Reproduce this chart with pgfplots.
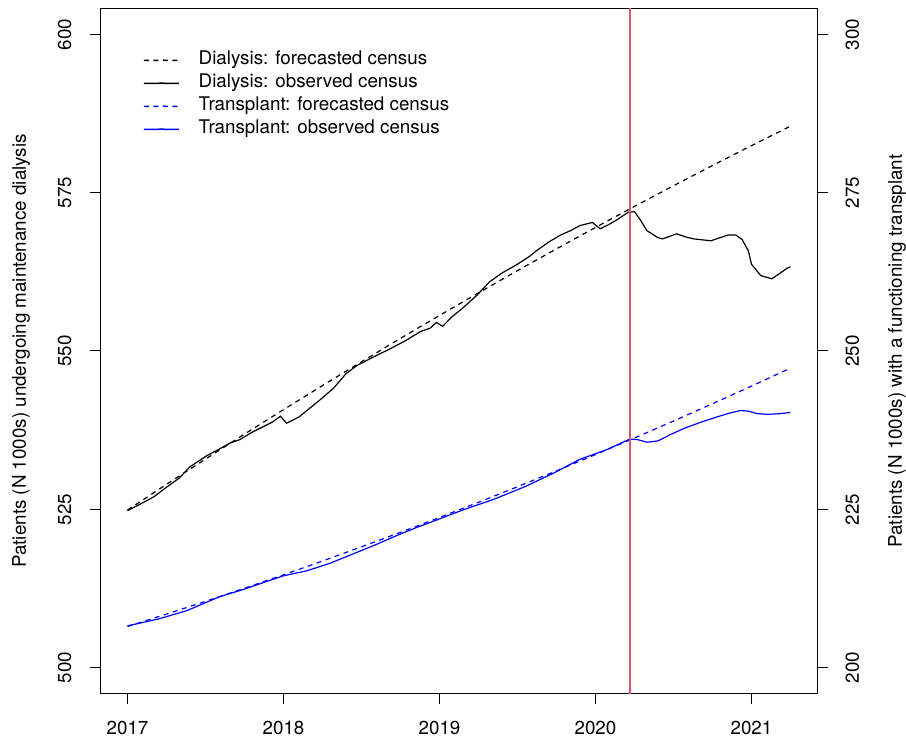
\documentclass[border=0pt]{standalone}
\usepackage{fontspec}
\setmainfont{TeX Gyre Heros}
\usepackage{pgfplots}
\pgfplotsset{compat=1.18}
\usetikzlibrary{calc}
\definecolor{rred}{RGB}{223,83,107}

\pgfplotstableread{
x y
2017.00 524.90
2017.25 528.95
2017.50 532.94
2017.75 536.88
2018.00 540.74
2018.25 544.55
2018.50 548.30
2018.75 552.00
2019.00 555.61
2019.25 559.18
2019.50 562.69
2019.75 566.13
2020.00 569.51
2020.25 572.83
2020.50 576.09
2020.75 579.29
2021.00 582.43
2021.25 585.50
}\dialfc

\pgfplotstableread{
x y
2017.00 524.8
2017.08 525.8
2017.17 527.0
2017.25 528.5
2017.33 529.9
2017.40 531.7
2017.51 533.5
2017.58 534.4
2017.66 535.5
2017.72 536.0
2017.80 537.2
2017.93 538.8
2017.98 539.7
2018.02 538.6
2018.10 539.6
2018.23 542.2
2018.32 544.1
2018.40 546.4
2018.47 547.7
2018.58 549.1
2018.68 550.3
2018.78 551.6
2018.88 553.1
2018.94 553.6
2018.98 554.5
2019.02 553.9
2019.08 555.4
2019.15 556.8
2019.24 558.8
2019.32 560.9
2019.40 562.3
2019.50 563.7
2019.58 565.0
2019.62 565.8
2019.70 567.2
2019.775 568.3
2019.84 569.0
2019.90 569.8
2019.98 570.3
2020.03 569.3
2020.08 569.9
2020.13 570.6
2020.21 571.9
2020.25 572.0
2020.29 570.6
2020.33 569.0
2020.40 567.9
2020.43 567.7
2020.52 568.5
2020.58 568.0
2020.63 567.7
2020.74 567.4
2020.80 567.9
2020.85 568.3
2020.90 568.3
2020.94 567.6
2020.98 565.8
2021.00 563.7
2021.06 561.9
2021.13 561.4
2021.19 562.4
2021.23 563.1
2021.25 563.3
}\dialobs

\pgfplotstableread{
x y
2017.00 206.50
2017.25 208.46
2017.50 210.47
2017.75 212.54
2018.00 214.66
2018.25 216.84
2018.50 219.08
2018.75 221.37
2019.00 223.71
2019.25 226.11
2019.50 228.57
2019.75 231.08
2020.00 233.65
2020.25 236.27
2020.50 238.94
2020.75 241.67
2021.00 244.46
2021.25 247.30
}\tranfc

\pgfplotstableread{
x y
2017.00 206.6
2017.20 207.7
2017.38 209.0
2017.59 211.2
2017.75 212.4
2017.89 213.6
2018.00 214.5
2018.15 215.3
2018.30 216.5
2018.43 217.8
2018.58 219.3
2018.73 220.9
2018.85 222.1
2018.98 223.3
2019.15 224.9
2019.35 226.6
2019.55 228.6
2019.73 230.7
2019.90 232.9
2020.07 234.4
2020.15 235.3
2020.22 236.1
2020.27 236.0
2020.33 235.6
2020.40 235.8
2020.48 236.8
2020.57 237.8
2020.68 238.8
2020.78 239.6
2020.86 240.2
2020.93 240.6
2020.98 240.5
2021.04 240.1
2021.10 240.0
2021.18 240.1
2021.25 240.3
}\tranobs

\begin{document}
\begin{tikzpicture}[font=\fontsize{18.8}{22.5}\selectfont]
\pgfplotsset{
  common/.style={
    scale only axis, width=716pt, height=684pt,
    xmin=2016.83, xmax=2021.42,
    axis line style={line width=1pt},
    every tick/.style={line width=1pt, black},
    major tick length=11pt,
    tick align=outside,
    /pgf/number format/assume math mode=true,
    /pgf/number format/1000 sep={},
  }
}
\begin{axis}[common, name=ax,
  ymin=496, ymax=604, ytick={500,525,550,575,600},
  xtick={2017,2018,2019,2020,2021},
  xtick pos=bottom, ytick pos=left,
  xticklabel style={yshift=-14pt},
  yticklabel style={rotate=90, anchor=south, yshift=15pt},
  every axis y label/.style={at={(axis description cs:-0.1117,0.5)}, rotate=90, anchor=center},
  ylabel={Patients (N 1000s) undergoing maintenance dialysis},
]
\addplot[color=black, line width=1.2pt, dash pattern=on 5pt off 4.5pt] table[x=x,y=y] {\dialfc};
\addplot[color=black, line width=1.2pt] table[x=x,y=y] {\dialobs};
\end{axis}
\begin{axis}[common,
  ymin=196, ymax=304, ytick={200,225,250,275,300},
  axis y line*=right, axis x line=none,
  yticklabel style={rotate=90, anchor=north, yshift=-14pt},
  every axis y label/.style={at={(axis description cs:1.1117,0.5)}, rotate=90, anchor=center},
  ylabel={Patients (N 1000s) with a functioning transplant},
  legend style={draw=none, fill=none, at={(axis description cs:0.0587,0.9382)}, anchor=north west,
    inner sep=0pt, row sep=5pt, column sep=19pt,
    nodes={inner sep=0pt, text height=13.5pt, text depth=4.5pt}},
  legend cell align=left,
  legend image code/.code={\draw[#1, line width=1.5pt] (0pt,0pt) -- (17.5pt,0.25pt) -- (35pt,0pt);},
]
\addlegendimage{color=black, line width=1.2pt, dash pattern=on 5pt off 4.5pt}
\addlegendentry{Dialysis: forecasted census}
\addlegendimage{color=black, line width=1.2pt}
\addlegendentry{Dialysis: observed census}
\addplot[color=blue, line width=1.2pt, dash pattern=on 5pt off 4.5pt] table[x=x,y=y] {\tranfc};
\addlegendentry{Transplant: forecasted census}
\addplot[color=blue, line width=1.2pt] table[x=x,y=y] {\tranobs};
\addlegendentry{Transplant: observed census}
\addplot[draw=rred, line width=2pt, forget plot] coordinates {(2020.22,190) (2020.22,310)};
\end{axis}
\pgfresetboundingbox
\path[use as bounding box] ($(ax.south west)+(-101pt,-45pt)$) rectangle ($(ax.north east)+(89pt,9pt)$);
\end{tikzpicture}
\end{document}
